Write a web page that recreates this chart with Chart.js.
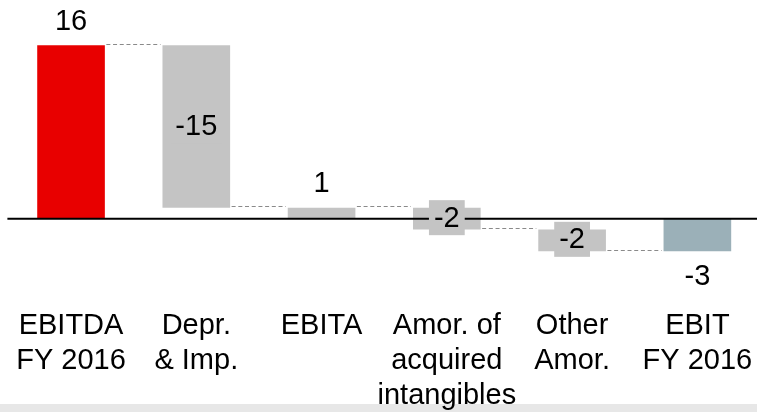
<!DOCTYPE html>
<html>
<head>
<meta charset="utf-8">
<script src="https://cdn.jsdelivr.net/npm/chart.js@4/dist/chart.umd.min.js"></script>
<style>
  html, body { margin: 0; padding: 0; background: #fff; overflow: hidden; }
  #wrap { width: 760px; height: 412px; }
</style>
</head>
<body>
<div id="wrap"><canvas id="waterfall" width="760" height="412"></canvas></div>
<script>
// chart values
var categories = [
  ["EBITDA", "FY 2016"],
  ["Depr.", "& Imp."],
  ["EBITA"],
  ["Amor. of", "acquired", "intangibles"],
  ["Other", "Amor."],
  ["EBIT", "FY 2016"]
];
var changes = [16, -15, 1, -2, -2, -3];
var isTotal = [true, false, true, false, false, true];
var barColors = ["#e80000", "#c4c4c4", "#c4c4c4", "#c4c4c4", "#c4c4c4", "#9bb0b8"];

var FONT = "'Liberation Sans', Arial, sans-serif";
var FONT_SIZE = 29;

// build floating bars [start, end]
var ranges = [];
var running = 0;
for (var i = 0; i < changes.length; i++) {
  if (isTotal[i]) {
    ranges.push([0, changes[i]]);
    running = changes[i];
  } else {
    ranges.push([running, running + changes[i]]);
    running = running + changes[i];
  }
}

// gray band at the bottom, drawn under everything
var bandPlugin = {
  id: "band",
  beforeDraw: function (chart) {
    var ctx = chart.ctx;
    ctx.save();
    ctx.fillStyle = "#e7e7e7";
    ctx.fillRect(0, 404, chart.width, 8);
    ctx.restore();
  }
};

// zero line, connectors and value labels
var waterfallPlugin = {
  id: "waterfall",
  afterDatasetsDraw: function (chart) {
    var ctx = chart.ctx;
    var y = chart.scales.y;
    var area = chart.chartArea;
    var bars = chart.getDatasetMeta(0).data;
    ctx.save();

    // zero line
    var zero = y.getPixelForValue(0);
    ctx.strokeStyle = "#000";
    ctx.lineWidth = 2;
    ctx.beginPath();
    ctx.moveTo(area.left - 1, zero);
    ctx.lineTo(area.right, zero);
    ctx.stroke();

    // dashed connectors
    ctx.strokeStyle = "#8a8a8a";
    ctx.lineWidth = 1;
    ctx.setLineDash([4, 2.7]);
    for (var i = 0; i < bars.length - 1; i++) {
      var a = bars[i], b = bars[i + 1];
      var ly = Math.round(y.getPixelForValue(ranges[i][1]) - 1.5) + 0.5;
      ctx.beginPath();
      ctx.moveTo(a.x + a.width / 2 + 1.5, ly);
      ctx.lineTo(b.x - b.width / 2 - 2, ly);
      ctx.stroke();
    }
    ctx.setLineDash([]);

    // labels
    ctx.font = FONT_SIZE + "px " + FONT;
    ctx.textAlign = "center";
    ctx.textBaseline = "middle";
    for (var j = 0; j < bars.length; j++) {
      var bar = bars[j];
      var top = Math.min(bar.y, bar.base);
      var bottom = Math.max(bar.y, bar.base);
      var txt = String(changes[j]);
      var cy;
      if (isTotal[j]) {
        cy = changes[j] >= 0 ? top - 24.5 : bottom + 24.5;
      } else {
        cy = (top + bottom) / 2 - 1;
        var w = ctx.measureText(txt).width + 10;
        ctx.fillStyle = barColors[j];
        ctx.fillRect(bar.x - w / 2, cy - 17.5, w, 35);
      }
      ctx.fillStyle = "#000";
      ctx.fillText(txt, bar.x, cy + 1);
    }
    ctx.restore();
  }
};

new Chart(document.getElementById("waterfall").getContext("2d"), {
  type: "bar",
  data: {
    labels: categories,
    datasets: [
      {
        data: ranges,
        backgroundColor: barColors,
        borderWidth: 0,
        categoryPercentage: 1,
        barPercentage: 0.54
      }
    ]
  },
  options: {
    responsive: false,
    animation: false,
    layout: { padding: { left: 8.4, right: 0, top: 2, bottom: 0 } },
    plugins: {
      legend: { display: false },
      tooltip: { enabled: false }
    },
    scales: {
      x: {
        grid: { display: false, drawTicks: false },
        border: { display: false },
        ticks: {
          color: "#000",
          padding: 7.5,
          maxRotation: 0,
          autoSkip: false,
          font: { family: FONT, size: FONT_SIZE, lineHeight: 1.2 }
        },
        afterFit: function (scale) {
          scale.height = 111;
        }
      },
      y: {
        display: false,
        min: -7.6,
        max: 20
      }
    }
  },
  plugins: [bandPlugin, waterfallPlugin]
});
</script>
</body>
</html>
